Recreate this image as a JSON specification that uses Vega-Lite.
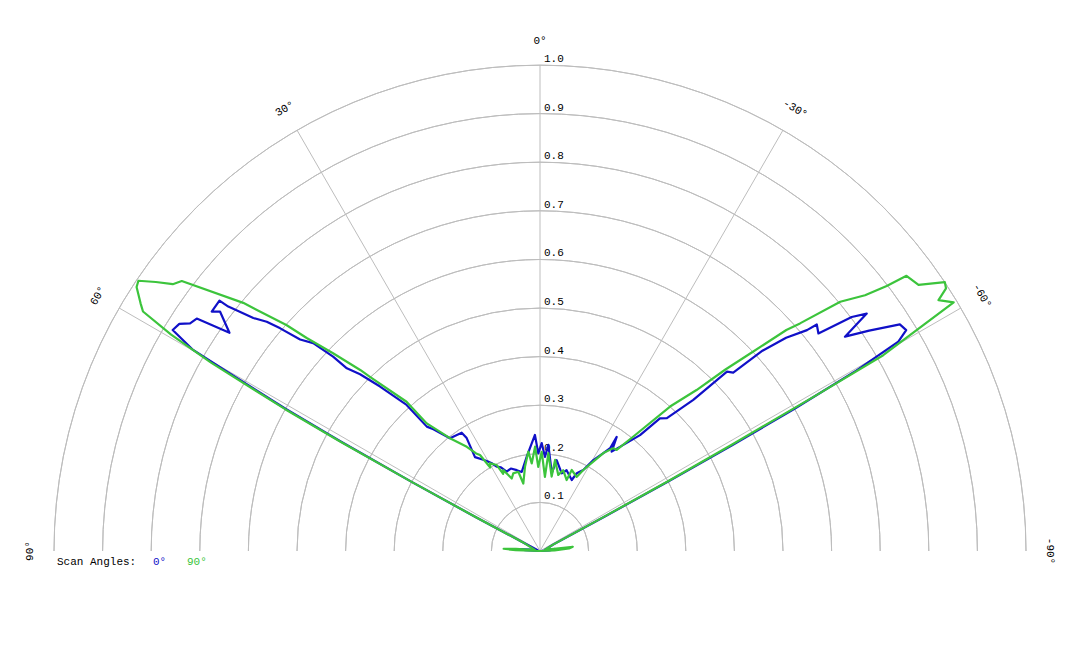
{
  "$schema": "https://vega.github.io/schema/vega-lite/v6.json",
  "width": 1080,
  "height": 648,
  "autosize": {"type": "fit", "contains": "padding"},
  "padding": 0,
  "background": "white",
  "config": {"view": {"stroke": null}, "font": "Liberation Mono"},
  "datasets": {
    "rings": [{"r": 0.1}, {"r": 0.2}, {"r": 0.3}, {"r": 0.4}, {"r": 0.5}, {"r": 0.6}, {"r": 0.7}, {"r": 0.8}, {"r": 0.9}, {"r": 1.0}],
    "ticks": [{"r": 0.1, "label": "0.1"}, {"r": 0.2, "label": "0.2"}, {"r": 0.3, "label": "0.3"}, {"r": 0.4, "label": "0.4"}, {"r": 0.5, "label": "0.5"}, {"r": 0.6, "label": "0.6"}, {"r": 0.7, "label": "0.7"}, {"r": 0.8, "label": "0.8"}, {"r": 0.9, "label": "0.9"}, {"r": 1.0, "label": "1.0"}],
    "spokes": [{"a": 0}, {"a": 30}, {"a": 60}, {"a": -30}, {"a": -60}],
    "angles": [{"a": 0, "label": "0°"}, {"a": 30, "label": "30°"}, {"a": 60, "label": "60°"}, {"a": 90, "label": "90°"}, {"a": -30, "label": "-30°"}, {"a": -60, "label": "-60°"}, {"a": -90, "label": "-90°"}],
    "legend": [{"s": "Scan Angles:"}],
    "pattern": [
      {"s": "0°", "i": 1, "t": 90, "r": 0.0},
      {"s": "0°", "i": 2, "t": 87, "r": 0.03},
      {"s": "0°", "i": 3, "t": 85, "r": 0.045},
      {"s": "0°", "i": 4, "t": 82, "r": 0.02},
      {"s": "0°", "i": 5, "t": 72, "r": 0.005},
      {"s": "0°", "i": 6, "t": 63, "r": 0.04},
      {"s": "0°", "i": 7, "t": 62.2, "r": 0.15},
      {"s": "0°", "i": 8, "t": 61.7, "r": 0.3},
      {"s": "0°", "i": 9, "t": 61.2, "r": 0.47},
      {"s": "0°", "i": 10, "t": 60.8, "r": 0.6},
      {"s": "0°", "i": 11, "t": 60.2, "r": 0.743},
      {"s": "0°", "i": 12, "t": 59.9, "r": 0.825},
      {"s": "0°", "i": 13, "t": 58.97, "r": 0.882},
      {"s": "0°", "i": 14, "t": 57.8, "r": 0.877},
      {"s": "0°", "i": 15, "t": 56.95, "r": 0.859},
      {"s": "0°", "i": 16, "t": 55.9, "r": 0.853},
      {"s": "0°", "i": 17, "t": 54.9, "r": 0.781},
      {"s": "0°", "i": 18, "t": 53.2, "r": 0.822},
      {"s": "0°", "i": 19, "t": 53.9, "r": 0.836},
      {"s": "0°", "i": 20, "t": 52.0, "r": 0.837},
      {"s": "0°", "i": 21, "t": 51.9, "r": 0.815},
      {"s": "0°", "i": 22, "t": 50.9, "r": 0.76},
      {"s": "0°", "i": 23, "t": 50.0, "r": 0.734},
      {"s": "0°", "i": 24, "t": 49.4, "r": 0.704},
      {"s": "0°", "i": 25, "t": 48.6, "r": 0.658},
      {"s": "0°", "i": 26, "t": 47.5, "r": 0.633},
      {"s": "0°", "i": 27, "t": 46.8, "r": 0.584},
      {"s": "0°", "i": 28, "t": 46.6, "r": 0.547},
      {"s": "0°", "i": 29, "t": 45.5, "r": 0.519},
      {"s": "0°", "i": 30, "t": 44.2, "r": 0.472},
      {"s": "0°", "i": 31, "t": 42.4, "r": 0.407},
      {"s": "0°", "i": 32, "t": 42.3, "r": 0.346},
      {"s": "0°", "i": 33, "t": 41.2, "r": 0.333},
      {"s": "0°", "i": 34, "t": 38.6, "r": 0.297},
      {"s": "0°", "i": 35, "t": 33.5, "r": 0.292},
      {"s": "0°", "i": 36, "t": 33.0, "r": 0.277},
      {"s": "0°", "i": 37, "t": 34.7, "r": 0.235},
      {"s": "0°", "i": 38, "t": 31.9, "r": 0.221},
      {"s": "0°", "i": 39, "t": 30.4, "r": 0.214},
      {"s": "0°", "i": 40, "t": 28.8, "r": 0.206},
      {"s": "0°", "i": 41, "t": 27.2, "r": 0.195},
      {"s": "0°", "i": 42, "t": 25.0, "r": 0.19},
      {"s": "0°", "i": 43, "t": 22.8, "r": 0.177},
      {"s": "0°", "i": 44, "t": 19.5, "r": 0.18},
      {"s": "0°", "i": 45, "t": 16.0, "r": 0.173},
      {"s": "0°", "i": 46, "t": 13.0, "r": 0.167},
      {"s": "0°", "i": 47, "t": 8.0, "r": 0.196},
      {"s": "0°", "i": 48, "t": 4.4, "r": 0.222},
      {"s": "0°", "i": 49, "t": 2.5, "r": 0.239},
      {"s": "0°", "i": 50, "t": 1.0, "r": 0.201},
      {"s": "0°", "i": 51, "t": -0.9, "r": 0.222},
      {"s": "0°", "i": 52, "t": -3.0, "r": 0.194},
      {"s": "0°", "i": 53, "t": -4.5, "r": 0.219},
      {"s": "0°", "i": 54, "t": -8.6, "r": 0.162},
      {"s": "0°", "i": 55, "t": -10.4, "r": 0.19},
      {"s": "0°", "i": 56, "t": -15.6, "r": 0.166},
      {"s": "0°", "i": 57, "t": -18.2, "r": 0.175},
      {"s": "0°", "i": 58, "t": -24.1, "r": 0.16},
      {"s": "0°", "i": 59, "t": -25.3, "r": 0.177},
      {"s": "0°", "i": 60, "t": -28.1, "r": 0.189},
      {"s": "0°", "i": 61, "t": -30.4, "r": 0.217},
      {"s": "0°", "i": 62, "t": -32.9, "r": 0.24},
      {"s": "0°", "i": 63, "t": -34.3, "r": 0.256},
      {"s": "0°", "i": 64, "t": -33.9, "r": 0.283},
      {"s": "0°", "i": 65, "t": -35.8, "r": 0.252},
      {"s": "0°", "i": 66, "t": -37.5, "r": 0.27},
      {"s": "0°", "i": 67, "t": -40.8, "r": 0.315},
      {"s": "0°", "i": 68, "t": -42.1, "r": 0.368},
      {"s": "0°", "i": 69, "t": -43.7, "r": 0.378},
      {"s": "0°", "i": 70, "t": -45.4, "r": 0.443},
      {"s": "0°", "i": 71, "t": -46.2, "r": 0.533},
      {"s": "0°", "i": 72, "t": -47.3, "r": 0.541},
      {"s": "0°", "i": 73, "t": -48.0, "r": 0.616},
      {"s": "0°", "i": 74, "t": -49.1, "r": 0.67},
      {"s": "0°", "i": 75, "t": -50.4, "r": 0.713},
      {"s": "0°", "i": 76, "t": -50.7, "r": 0.736},
      {"s": "0°", "i": 77, "t": -52.0, "r": 0.727},
      {"s": "0°", "i": 78, "t": -53.1, "r": 0.802},
      {"s": "0°", "i": 79, "t": -54.0, "r": 0.831},
      {"s": "0°", "i": 80, "t": -54.9, "r": 0.767},
      {"s": "0°", "i": 81, "t": -56.2, "r": 0.815},
      {"s": "0°", "i": 82, "t": -57.8, "r": 0.875},
      {"s": "0°", "i": 83, "t": -58.9, "r": 0.88},
      {"s": "0°", "i": 84, "t": -59.7, "r": 0.854},
      {"s": "0°", "i": 85, "t": -60.3, "r": 0.75},
      {"s": "0°", "i": 86, "t": -60.8, "r": 0.6},
      {"s": "0°", "i": 87, "t": -61.2, "r": 0.45},
      {"s": "0°", "i": 88, "t": -61.5, "r": 0.3},
      {"s": "0°", "i": 89, "t": -62, "r": 0.15},
      {"s": "0°", "i": 90, "t": -64, "r": 0.03},
      {"s": "0°", "i": 91, "t": -78, "r": 0.01},
      {"s": "0°", "i": 92, "t": -82, "r": 0.03},
      {"s": "0°", "i": 93, "t": -86, "r": 0.02},
      {"s": "0°", "i": 94, "t": -90, "r": 0.0},
      {"s": "90°", "i": 1, "t": 90, "r": 0.0},
      {"s": "90°", "i": 2, "t": 88, "r": 0.05},
      {"s": "90°", "i": 3, "t": 86.5, "r": 0.075},
      {"s": "90°", "i": 4, "t": 85, "r": 0.05},
      {"s": "90°", "i": 5, "t": 80, "r": 0.01},
      {"s": "90°", "i": 6, "t": 63, "r": 0.04},
      {"s": "90°", "i": 7, "t": 62.2, "r": 0.15},
      {"s": "90°", "i": 8, "t": 61.7, "r": 0.3},
      {"s": "90°", "i": 9, "t": 61.3, "r": 0.47},
      {"s": "90°", "i": 10, "t": 60.9, "r": 0.6},
      {"s": "90°", "i": 11, "t": 60.2, "r": 0.78},
      {"s": "90°", "i": 12, "t": 59.6, "r": 0.88},
      {"s": "90°", "i": 13, "t": 58.9, "r": 0.954},
      {"s": "90°", "i": 14, "t": 58.2, "r": 0.967},
      {"s": "90°", "i": 15, "t": 56.8, "r": 0.992},
      {"s": "90°", "i": 16, "t": 56.06, "r": 0.996},
      {"s": "90°", "i": 17, "t": 55, "r": 0.965},
      {"s": "90°", "i": 18, "t": 54.0, "r": 0.934},
      {"s": "90°", "i": 19, "t": 53.0, "r": 0.923},
      {"s": "90°", "i": 20, "t": 50.1, "r": 0.796},
      {"s": "90°", "i": 21, "t": 48.3, "r": 0.699},
      {"s": "90°", "i": 22, "t": 47.6, "r": 0.65},
      {"s": "90°", "i": 23, "t": 46.3, "r": 0.589},
      {"s": "90°", "i": 24, "t": 44.8, "r": 0.525},
      {"s": "90°", "i": 25, "t": 44.3, "r": 0.5},
      {"s": "90°", "i": 26, "t": 41.8, "r": 0.412},
      {"s": "90°", "i": 27, "t": 41.6, "r": 0.351},
      {"s": "90°", "i": 28, "t": 38.6, "r": 0.297},
      {"s": "90°", "i": 29, "t": 35.1, "r": 0.262},
      {"s": "90°", "i": 30, "t": 33.2, "r": 0.24},
      {"s": "90°", "i": 31, "t": 32.0, "r": 0.233},
      {"s": "90°", "i": 32, "t": 30.8, "r": 0.2},
      {"s": "90°", "i": 33, "t": 29.7, "r": 0.208},
      {"s": "90°", "i": 34, "t": 26.7, "r": 0.198},
      {"s": "90°", "i": 35, "t": 25.5, "r": 0.176},
      {"s": "90°", "i": 36, "t": 24.4, "r": 0.183},
      {"s": "90°", "i": 37, "t": 21.3, "r": 0.16},
      {"s": "90°", "i": 38, "t": 19.0, "r": 0.169},
      {"s": "90°", "i": 39, "t": 15.3, "r": 0.169},
      {"s": "90°", "i": 40, "t": 13.9, "r": 0.143},
      {"s": "90°", "i": 41, "t": 10.1, "r": 0.176},
      {"s": "90°", "i": 42, "t": 6.7, "r": 0.206},
      {"s": "90°", "i": 43, "t": 5.4, "r": 0.181},
      {"s": "90°", "i": 44, "t": 2.7, "r": 0.215},
      {"s": "90°", "i": 45, "t": 1.2, "r": 0.173},
      {"s": "90°", "i": 46, "t": -1.0, "r": 0.204},
      {"s": "90°", "i": 47, "t": -3.8, "r": 0.153},
      {"s": "90°", "i": 48, "t": -4.9, "r": 0.202},
      {"s": "90°", "i": 49, "t": -8.9, "r": 0.155},
      {"s": "90°", "i": 50, "t": -9.4, "r": 0.19},
      {"s": "90°", "i": 51, "t": -13.5, "r": 0.161},
      {"s": "90°", "i": 52, "t": -16.0, "r": 0.173},
      {"s": "90°", "i": 53, "t": -20.6, "r": 0.156},
      {"s": "90°", "i": 54, "t": -21.4, "r": 0.179},
      {"s": "90°", "i": 55, "t": -26.3, "r": 0.17},
      {"s": "90°", "i": 56, "t": -28.1, "r": 0.189},
      {"s": "90°", "i": 57, "t": -30.8, "r": 0.214},
      {"s": "90°", "i": 58, "t": -32.9, "r": 0.24},
      {"s": "90°", "i": 59, "t": -35.5, "r": 0.26},
      {"s": "90°", "i": 60, "t": -37.2, "r": 0.261},
      {"s": "90°", "i": 61, "t": -39.2, "r": 0.304},
      {"s": "90°", "i": 62, "t": -42.0, "r": 0.4},
      {"s": "90°", "i": 63, "t": -44.2, "r": 0.462},
      {"s": "90°", "i": 64, "t": -45.6, "r": 0.533},
      {"s": "90°", "i": 65, "t": -46.9, "r": 0.6},
      {"s": "90°", "i": 66, "t": -48.1, "r": 0.681},
      {"s": "90°", "i": 67, "t": -48.8, "r": 0.711},
      {"s": "90°", "i": 68, "t": -50.3, "r": 0.803},
      {"s": "90°", "i": 69, "t": -51.8, "r": 0.851},
      {"s": "90°", "i": 70, "t": -52.6, "r": 0.898},
      {"s": "90°", "i": 71, "t": -53.1, "r": 0.943},
      {"s": "90°", "i": 72, "t": -54.9, "r": 0.952},
      {"s": "90°", "i": 73, "t": -56.4, "r": 1.0},
      {"s": "90°", "i": 74, "t": -57.1, "r": 0.995},
      {"s": "90°", "i": 75, "t": -57.8, "r": 0.969},
      {"s": "90°", "i": 76, "t": -59.0, "r": 0.993},
      {"s": "90°", "i": 77, "t": -60.3, "r": 0.813},
      {"s": "90°", "i": 78, "t": -60.6, "r": 0.65},
      {"s": "90°", "i": 79, "t": -61.0, "r": 0.45},
      {"s": "90°", "i": 80, "t": -61.4, "r": 0.3},
      {"s": "90°", "i": 81, "t": -61.9, "r": 0.15},
      {"s": "90°", "i": 82, "t": -64, "r": 0.03},
      {"s": "90°", "i": 83, "t": -76, "r": 0.01},
      {"s": "90°", "i": 84, "t": -82.6, "r": 0.068},
      {"s": "90°", "i": 85, "t": -85, "r": 0.06},
      {"s": "90°", "i": 86, "t": -88, "r": 0.03},
      {"s": "90°", "i": 87, "t": -90, "r": 0.0}
    ]
  },
  "layer": [
    {
      "data": {"name": "rings"},
      "transform": [
        {"calculate": "-90", "as": "t1"},
        {"calculate": "90", "as": "t2"}
      ],
      "mark": {"type": "arc", "filled": false, "stroke": "#bdbdbd", "strokeWidth": 1},
      "encoding": {
        "x": {"datum": 0, "type": "quantitative", "scale": {"domain": [-1.11111, 1.11111], "nice": false, "zero": false}, "axis": null},
        "y": {"datum": 0, "type": "quantitative", "scale": {"domain": [-0.19959, 1.13374], "nice": false, "zero": false}, "axis": null},
        "theta": {"field": "t1", "type": "quantitative", "stack": null, "scale": {"domain": [-90, 90], "range": [-1.5707963, 1.5707963]}},
        "theta2": {"field": "t2"},
        "radius": {"field": "r", "type": "quantitative", "scale": {"type": "linear", "domain": [0, 1], "range": [0, 486], "zero": true}},
        "radius2": {"field": "r"}
      }
    },
    {
      "data": {"name": "spokes"},
      "transform": [
        {"calculate": "-sin(datum.a * PI / 180)", "as": "sx"},
        {"calculate": "cos(datum.a * PI / 180)", "as": "sy"},
        {"calculate": "0", "as": "o"}
      ],
      "mark": {"type": "rule", "stroke": "#bdbdbd", "strokeWidth": 1},
      "encoding": {
        "x": {"field": "o", "type": "quantitative", "scale": {"domain": [-1.11111, 1.11111], "nice": false, "zero": false}, "axis": null},
        "y": {"field": "o", "type": "quantitative", "scale": {"domain": [-0.19959, 1.13374], "nice": false, "zero": false}, "axis": null},
        "x2": {"field": "sx"},
        "y2": {"field": "sy"}
      }
    },
    {
      "data": {"name": "ticks"},
      "transform": [{"calculate": "0", "as": "o"}],
      "mark": {"type": "text", "align": "left", "baseline": "bottom", "dx": 4, "dy": -1, "fontSize": 11, "font": "Liberation Mono", "fill": "#000000"},
      "encoding": {
        "x": {"field": "o", "type": "quantitative", "scale": {"domain": [-1.11111, 1.11111], "nice": false, "zero": false}, "axis": null},
        "y": {"field": "r", "type": "quantitative", "scale": {"domain": [-0.19959, 1.13374], "nice": false, "zero": false}, "axis": null},
        "text": {"field": "label", "type": "nominal"}
      }
    },
    {
      "data": {"name": "angles"},
      "transform": [
        {"calculate": "-1.05 * sin(datum.a * PI / 180)", "as": "lx"},
        {"calculate": "1.05 * cos(datum.a * PI / 180)", "as": "ly"},
        {"calculate": "-datum.a", "as": "rot"}
      ],
      "mark": {"type": "text", "align": "center", "baseline": "middle", "fontSize": 11, "font": "Liberation Mono", "fill": "#000000"},
      "encoding": {
        "x": {"field": "lx", "type": "quantitative", "scale": {"domain": [-1.11111, 1.11111], "nice": false, "zero": false}, "axis": null},
        "y": {"field": "ly", "type": "quantitative", "scale": {"domain": [-0.19959, 1.13374], "nice": false, "zero": false}, "axis": null},
        "angle": {"field": "rot", "type": "quantitative", "scale": {"domain": [-360, 360], "range": [-360, 360]}},
        "text": {"field": "label", "type": "nominal"}
      }
    },
    {
      "data": {"name": "pattern"},
      "transform": [
        {"calculate": "-datum.r * sin(datum.t * PI / 180)", "as": "px"},
        {"calculate": "datum.r * cos(datum.t * PI / 180)", "as": "py"}
      ],
      "mark": {"type": "line", "strokeWidth": 2.2, "strokeJoin": "round"},
      "encoding": {
        "x": {"field": "px", "type": "quantitative", "scale": {"domain": [-1.11111, 1.11111], "nice": false, "zero": false}, "axis": null},
        "y": {"field": "py", "type": "quantitative", "scale": {"domain": [-0.19959, 1.13374], "nice": false, "zero": false}, "axis": null},
        "color": {"field": "s", "type": "nominal", "scale": {"domain": ["0°", "90°"], "range": ["#1010c8", "#3cc43c"]}, "legend": null},
        "order": {"field": "i", "type": "quantitative"}
      }
    },
    {
      "data": {"name": "legend"},
      "layer": [
        {
          "mark": {"type": "text", "align": "left", "baseline": "middle", "fontSize": 11, "font": "Liberation Mono", "fill": "#000000", "text": "Scan Angles:"},
          "encoding": {
            "x": {"datum": -0.9938, "type": "quantitative", "scale": {"domain": [-1.11111, 1.11111], "nice": false, "zero": false}, "axis": null},
            "y": {"datum": -0.0235, "type": "quantitative", "scale": {"domain": [-0.19959, 1.13374], "nice": false, "zero": false}, "axis": null}
          }
        },
        {
          "mark": {"type": "text", "align": "left", "baseline": "middle", "fontSize": 11, "font": "Liberation Mono", "fill": "#1010c8", "text": "0°"},
          "encoding": {
            "x": {"datum": -0.7963, "type": "quantitative", "scale": {"domain": [-1.11111, 1.11111], "nice": false, "zero": false}, "axis": null},
            "y": {"datum": -0.0235, "type": "quantitative", "scale": {"domain": [-0.19959, 1.13374], "nice": false, "zero": false}, "axis": null}
          }
        },
        {
          "mark": {"type": "text", "align": "left", "baseline": "middle", "fontSize": 11, "font": "Liberation Mono", "fill": "#3cc43c", "text": "90°"},
          "encoding": {
            "x": {"datum": -0.7263, "type": "quantitative", "scale": {"domain": [-1.11111, 1.11111], "nice": false, "zero": false}, "axis": null},
            "y": {"datum": -0.0235, "type": "quantitative", "scale": {"domain": [-0.19959, 1.13374], "nice": false, "zero": false}, "axis": null}
          }
        }
      ]
    }
  ]
}
